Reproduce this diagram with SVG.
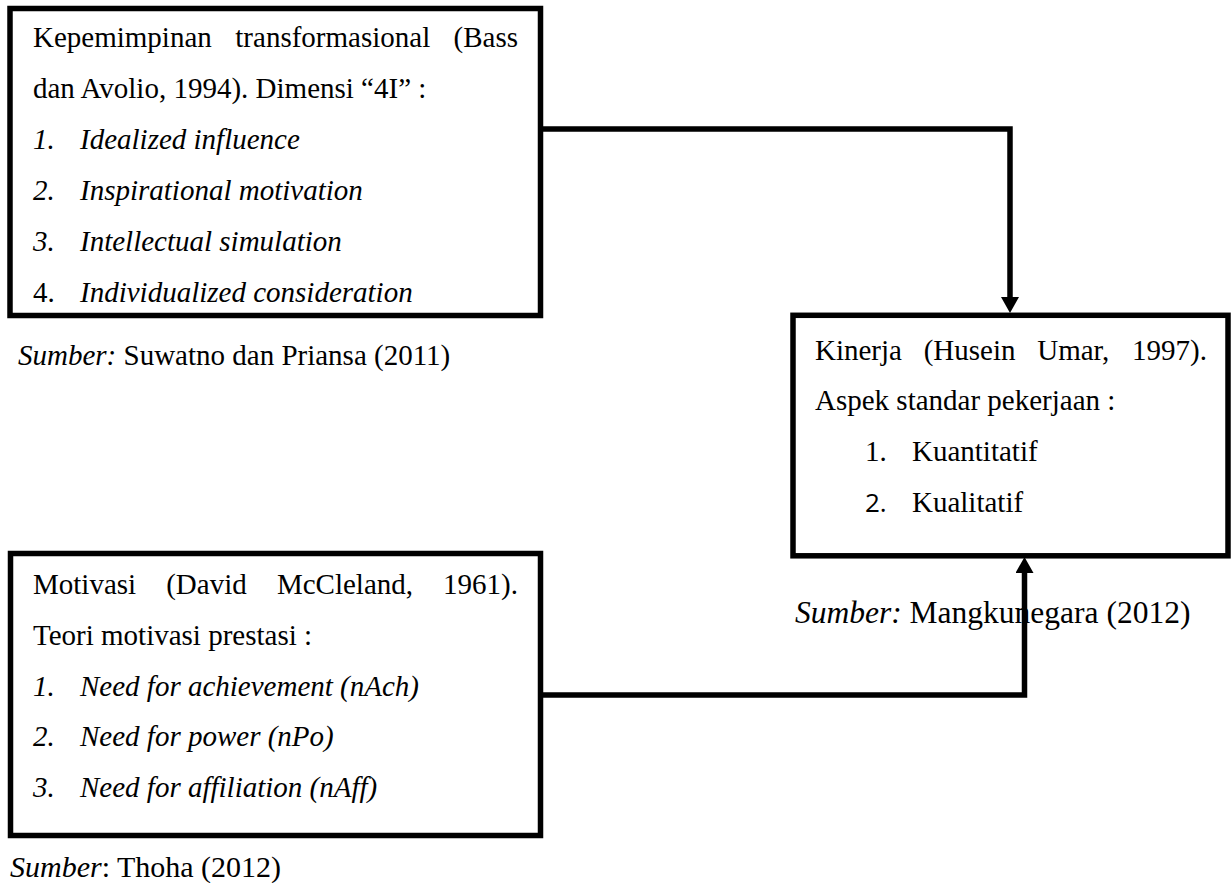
<svg xmlns="http://www.w3.org/2000/svg" width="1231" height="883" viewBox="0 0 1231 883">
<style>
.box{fill:#fff;stroke:#000;stroke-width:5.5}
.t{font-family:"Liberation Serif","Times New Roman",serif;font-size:29px;fill:#000}
.i{font-style:italic}
.s{font-family:"Open Sans","Noto Sans",sans-serif;font-size:26px;fill:#000}
.c{fill:none;stroke:#000;stroke-width:5.5}
</style>
<defs>
<marker id="arr" markerUnits="userSpaceOnUse" markerWidth="16" markerHeight="18" viewBox="0 0 16 18" refX="0" refY="9" orient="auto">
<path d="M0,0 L16,9 L0,18 Z" fill="#000"/>
</marker>
</defs>
<rect width="1231" height="883" fill="#fff"/>
<g id="connectors">
<path class="c" d="M540.5,129 H1010 V297" marker-end="url(#arr)"/>
<path class="c" d="M540.5,695 H1024.5 V573" marker-end="url(#arr)"/>
</g>
<g id="node-kepemimpinan">
<rect class="box" x="10" y="8.5" width="530.5" height="307"/>
<text class="t" y="47"><tspan x="33">Kepemimpinan</tspan><tspan x="235.3">transformasional</tspan><tspan x="518" text-anchor="end">(Bass</tspan></text>
<text class="t" x="33" y="98">dan Avolio, 1994). Dimensi “4I” :</text>
<text class="t i" y="149"><tspan x="33">1.</tspan><tspan x="80">Idealized influence</tspan></text>
<text class="t i" y="200"><tspan x="33">2.</tspan><tspan x="80">Inspirational motivation</tspan></text>
<text class="t i" y="251"><tspan x="33">3.</tspan><tspan x="80">Intellectual simulation</tspan></text>
<text class="t" y="302"><tspan x="33">4.</tspan><tspan x="80" class="i">Individualized consideration</tspan></text>
</g>
<g id="source-1">
<text class="t" x="18" y="365"><tspan class="i">Sumber:</tspan> Suwatno dan Priansa (2011)</text>
</g>
<g id="node-kinerja">
<rect class="box" x="793" y="315.3" width="435" height="240.5"/>
<text class="t" y="360"><tspan x="815">Kinerja</tspan><tspan x="923.7">(Husein</tspan><tspan x="1037.2">Umar,</tspan><tspan x="1207" text-anchor="end">1997).</tspan></text>
<text class="t" x="815" y="410">Aspek standar pekerjaan :</text>
<text class="t" y="461"><tspan x="865">1.</tspan><tspan x="912">Kuantitatif</tspan></text>
<text y="512"><tspan class="s" x="865">2.</tspan><tspan class="t" x="912">Kualitatif</tspan></text>
</g>
<g id="source-2">
<text class="t" x="795" y="623" style="font-size:31.5px"><tspan class="i">Sumber:</tspan> Mangkunegara (2012)</text>
</g>
<g id="node-motivasi">
<rect class="box" x="10.5" y="553.5" width="530" height="282"/>
<text class="t" y="594"><tspan x="33">Motivasi</tspan><tspan x="166.2">(David</tspan><tspan x="276.9">McCleland,</tspan><tspan x="518" text-anchor="end">1961).</tspan></text>
<text class="t" x="33" y="645">Teori motivasi prestasi :</text>
<text class="t i" y="696"><tspan x="33">1.</tspan><tspan x="80">Need for achievement (nAch)</tspan></text>
<text class="t i" y="746"><tspan x="33">2.</tspan><tspan x="80">Need for power (nPo)</tspan></text>
<text class="t i" y="797"><tspan x="33">3.</tspan><tspan x="80">Need for affiliation (nAff)</tspan></text>
</g>
<g id="source-3">
<text class="t" x="10" y="877" style="font-size:30px"><tspan class="i">Sumber</tspan>: Thoha (2012)</text>
</g>
</svg>
